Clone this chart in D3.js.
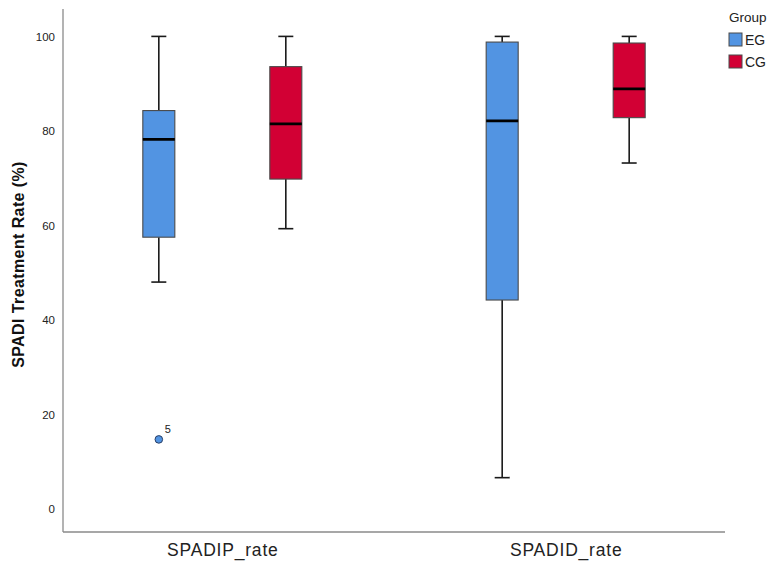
<!DOCTYPE html>
<html>
<head>
<meta charset="utf-8">
<script src="https://cdn.jsdelivr.net/npm/d3@7"></script>
<style>
  html, body { margin: 0; padding: 0; background: #fff; }
  svg { display: block; font-family: "Liberation Sans", Arial, sans-serif; }
</style>
</head>
<body>
<svg id="chart" width="772" height="565"></svg>
<script>
// Variables on the x axis and the two groups compared within each
const categories = ["SPADIP_rate", "SPADID_rate"];
const groups = ["EG", "CG"];
const groupColors = ["#5294E2", "#D20034"];

// Five-number summaries per variable, in group order [EG, CG]
const whiskerLow  = [[48.0, 59.3], [6.6, 73.2]];
const q1          = [[57.5, 69.8], [44.2, 82.8]];
const median      = [[78.2, 81.5], [82.1, 88.9]];
const q3          = [[84.3, 93.6], [98.8, 98.6]];
const whiskerHigh = [[100, 100], [100, 100]];

// Outlying cases: variable, group, value, case id
const outlierCategory = ["SPADIP_rate"];
const outlierGroup = ["EG"];
const outlierValue = [14.7];
const outlierLabel = ["5"];

const yTicks = [0, 20, 40, 60, 80, 100];

const svg = d3.select("#chart");
const plotLeft = 63, plotRight = 725, plotTop = 9, plotBottom = 532;

const y = d3.scaleLinear().domain([-4.9, 105.8]).range([plotBottom, plotTop]);
const x = d3.scalePoint().domain(categories).range([plotLeft, plotRight]).padding(0.464);
const xg = d3.scaleBand().domain(groups).range([-127, 127])
  .paddingInner(0.748).paddingOuter(0.374);
const color = d3.scaleOrdinal().domain(groups).range(groupColors);

// Axis frame (left and bottom only)
svg.append("line").attr("x1", plotLeft).attr("x2", plotLeft).attr("y1", plotTop).attr("y2", plotBottom)
  .attr("stroke", "#8a8a8a").attr("stroke-width", 1.3);
svg.append("line").attr("x1", plotLeft).attr("x2", plotRight).attr("y1", plotBottom).attr("y2", plotBottom)
  .attr("stroke", "#8a8a8a").attr("stroke-width", 1.3);

// Y tick labels
const yAxis = d3.axisLeft(y).tickValues(yTicks).tickSize(0).tickPadding(8);
const gy = svg.append("g").attr("transform", `translate(${plotLeft},0)`).call(yAxis);
gy.select(".domain").remove();
gy.selectAll("text").attr("font-size", 11.5).attr("fill", "#222")
  .attr("font-family", "Liberation Sans, Arial, sans-serif");

// X category labels
const xAxis = d3.axisBottom(x).tickSize(0).tickPadding(12);
const gx = svg.append("g").attr("transform", `translate(0,${plotBottom})`).call(xAxis);
gx.select(".domain").remove();
gx.selectAll("text").attr("font-size", 17.5).attr("letter-spacing", 0.8).attr("fill", "#222")
  .attr("font-family", "Liberation Sans, Arial, sans-serif");

// Y axis title
svg.append("text")
  .attr("transform", "translate(24,264.5) rotate(-90)")
  .attr("text-anchor", "middle")
  .attr("font-size", 16).attr("letter-spacing", 0.4)
  .attr("font-weight", "bold").attr("fill", "#111")
  .text("SPADI Treatment Rate (%)");

// Flatten summaries into box records
const boxes = [];
categories.forEach((c, i) => groups.forEach((g, j) => {
  boxes.push({
    cat: c, group: g,
    lo: whiskerLow[i][j], q1: q1[i][j], med: median[i][j], q3: q3[i][j], hi: whiskerHigh[i][j]
  });
}));

const bw = xg.bandwidth();
const capW = 15;
const cx = d => x(d.cat) + xg(d.group) + bw / 2;

const bg = svg.append("g").selectAll("g").data(boxes).join("g");

// Whisker stems
bg.append("line")
  .attr("x1", cx).attr("x2", cx)
  .attr("y1", d => y(d.hi)).attr("y2", d => y(d.q3))
  .attr("stroke", "#1a1a1a").attr("stroke-width", 1.6);
bg.append("line")
  .attr("x1", cx).attr("x2", cx)
  .attr("y1", d => y(d.q1)).attr("y2", d => y(d.lo))
  .attr("stroke", "#1a1a1a").attr("stroke-width", 1.6);

// Whisker caps
bg.append("line")
  .attr("x1", d => cx(d) - capW / 2).attr("x2", d => cx(d) + capW / 2)
  .attr("y1", d => y(d.hi)).attr("y2", d => y(d.hi))
  .attr("stroke", "#1a1a1a").attr("stroke-width", 1.6);
bg.append("line")
  .attr("x1", d => cx(d) - capW / 2).attr("x2", d => cx(d) + capW / 2)
  .attr("y1", d => y(d.lo)).attr("y2", d => y(d.lo))
  .attr("stroke", "#1a1a1a").attr("stroke-width", 1.6);

// Interquartile boxes
bg.append("rect")
  .attr("x", d => cx(d) - bw / 2)
  .attr("width", bw)
  .attr("y", d => y(d.q3))
  .attr("height", d => y(d.q1) - y(d.q3))
  .attr("fill", d => color(d.group))
  .attr("stroke", "#4a4a4a").attr("stroke-width", 1.1);

// Medians
bg.append("line")
  .attr("x1", d => cx(d) - bw / 2).attr("x2", d => cx(d) + bw / 2)
  .attr("y1", d => y(d.med)).attr("y2", d => y(d.med))
  .attr("stroke", "#000").attr("stroke-width", 2.8);

// Outliers with case labels
outlierValue.forEach((v, k) => {
  const px = x(outlierCategory[k]) + xg(outlierGroup[k]) + bw / 2;
  const py = y(v);
  svg.append("circle").attr("cx", px).attr("cy", py).attr("r", 3.8)
    .attr("fill", color(outlierGroup[k])).attr("stroke", "#2a3f66").attr("stroke-width", 1);
  svg.append("text").attr("x", px + 6).attr("y", py - 6)
    .attr("font-size", 11).attr("fill", "#222").text(outlierLabel[k]);
});

// Legend
const lg = svg.append("g").attr("transform", "translate(729,0)");
lg.append("text").attr("x", 0).attr("y", 22).attr("font-size", 13.5).attr("fill", "#222").text("Group");
groups.forEach((g, i) => {
  const yy = 33 + i * 22;
  lg.append("rect").attr("x", 0).attr("y", yy).attr("width", 13).attr("height", 13)
    .attr("fill", color(g)).attr("stroke", "#4a4a4a").attr("stroke-width", 1);
  lg.append("text").attr("x", 16).attr("y", yy + 12).attr("font-size", 14)
    .attr("fill", "#222").text(g);
});
</script>
</body>
</html>
